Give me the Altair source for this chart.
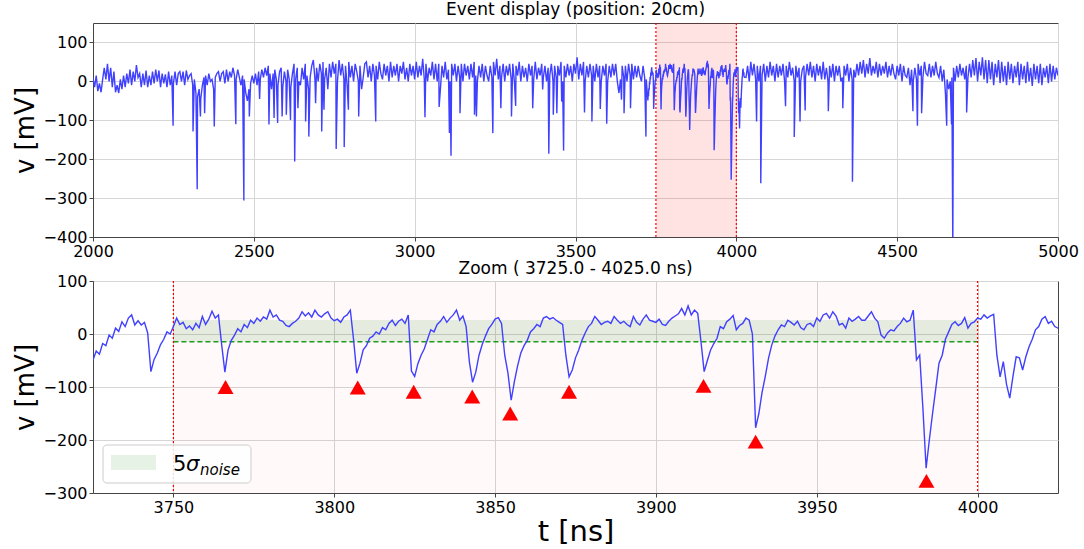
import altair as alt
import pandas as pd

# ---------------------------------------------------------------- data
# coarse record before the zoom window: one sample every 5 ns from 2000 ns
step_ns = 5
pre_start = 2000
pre_v = [
    8, -15, 15, -25, -5, -28, 5, 35, 5, 45,
    0, 35, -15, 25, -28, -10, -30, 5, -20, 15,
    -15, 20, -5, 30, -10, 25, 0, 42, 10, 20,
    -15, 20, -10, 28, -15, 15, -10, 25, -5, 30,
    0, 28, -15, 20, -5, 18, -15, 25, -10, 15,
    -5, 25, -10, 20, 25, 0, 25, -10, 28, 5,
    15, 20, -10, 5, -30, -40, -20, -45, -10, 10,
    15, -10, 20, 0, 5, -20, 10, 20, 25, 0,
    20, 25, -5, 30, 0, 25, 10, 35, 15, 5,
    30, 10, -10, 15, 5, -30, -50, -20, -5, 15,
    -5, 20, -10, 25, 5, 30, 10, 35, 15, 40,
    20, -20, 20, 30, 5, -10, 25, 35, -15, 25,
    0, 30, 5, -15, 20, 45, 5, 35, 0, -10,
    35, 5, 45, 15, -20, 10, 40, 55, 5, 35,
    0, 45, 20, 50, 5, 35, -20, 45, 10, 50,
    20, 45, 0, 55, 15, 45, 5, 40, -10, 50,
    10, 40, 0, 45, 25, 0, 40, -20, 10, 45,
    50, 10, 40, 0, 45, 15, 40, 5, 50, 20,
    5, 45, 15, 40, 0, 50, 10, 40, 15, 45,
    0, 40, 20, 50, 5, 35, 0, 45, 15, 40,
    5, 50, 10, 40, 15, 58, 5, 45, 0, 35,
    15, 50, 5, 45, 0, 45, -20, 40, 10, 50,
    5, 30, 0, 45, 15, 45, 0, 40, 10, 45,
    0, 45, 15, 40, 5, 45, 10, 50, 15, 0,
    40, 10, 45, 0, 40, 15, 0, 40, 10, 50,
    15, 58, 5, 40, 10, 45, 0, 40, 15, 45,
    5, 45, 0, 40, 15, 50, 0, 40, 10, 35,
    0, 45, 15, 40, 5, 50, 5, 35, 15, 45,
    10, 40, 0, 35, 15, 45, 0, 40, 10, 40,
    15, 50, 0, 40, 10, 45, 15, 40, 0, 45,
    20, 62, 5, 45, 15, 50, 0, 40, 10, 45,
    15, 40, 0, 45, 10, 40, 0, 40, 15, 45,
    0, 40, 10, 45, 15, 45, 0, -30, 5, 40,
    10, 40, 0, 45, 15, 45, 5, 40, 10, 40,
    15, 0, 40, 10, 5,
]

# coarse record after the zoom window, 5 ns samples from 4030 ns
post_start = 4030
post_v = [
    10, 40, 0, 50, 15, 45, 5, 40, 0, 40,
    15, 45, 0, 40, 10, 50, 15, 40, 0, 45,
    10, 40, 15, 45, 0, 40, 10, 50, 15, 35,
    0, 40, 10, 35, 0, 30, 40, 10, 45, 15,
    50, 10, 40, 0, 45, 15, 40, 5, 50, 5,
    35, 0, 40, 10, 45, 0, 40, 15, 40, 0,
    10, 40, 15, 45, 0, 35, 5, 30, 10, 45,
    15, 50, 20, 55, 10, 45, 20, 60, 15, 40,
    20, 50, 10, 45, 15, 40, 20, 50, 10, 40,
    15, 45, 20, 5, 40, 15, 45, 0, 40, 15,
    10, 35, -10, 30, 0, 35, 5, 45, 15, 40,
    10, 50, 20, 15, 45, 10, 40, 15, 50, 20,
    10, 40, 0, 30, -30, 5, -20, 0, 10, 35,
    0, 40, 10, 45, 15, 35, 5, 40, 10, 45,
    10, 55, 15, 60, 0, 50, 15, 62, 5, 55,
    -5, 55, 5, 50, -10, 45, 10, 55, -5, 50,
    0, 40, -10, 50, 5, 45, -5, 40, 10, 50,
    -10, 45, 5, 40, -5, 50, 0, 35, -12, 45,
    5, 40, -5, 45, -10, 35, 10, 40, -5, 45,
    0, 40, 5, 35, 15,
]

# narrow pulse minima in the coarse record (ns, mV)
pulse_t = [2249, 2311, 2324, 2334, 2347, 2377, 2444, 2469, 2486, 2518,
           2547, 2563, 2574, 2588, 2601, 2614, 2627, 2637, 2661, 2671,
           2692, 2711, 2718, 2756, 2781, 2794, 2826, 2879, 3032, 3076,
           3108, 3113, 3141, 3186, 3192, 3243, 3268, 3301, 3314, 3367,
           3398, 3417, 3431, 3442, 3457, 3463, 3528, 3551, 3577, 3597,
           3643, 3651, 3671, 3719,
           4063, 4076, 4153, 4180, 4198, 4214, 4286, 4331, 4361, 4549,
           4563, 4576, 4654, 4669, 4673, 4716]
pulse_v = [-114, -129, -277, -90, -82, -116, -110, -306, -90, -45,
           -111, -94, -107, -90, -86, -99, -206, -69, -103, -142,
           -56, -129, -73, -174, -169, -73, -90, -103, -92, -66,
           -133, -191, -82, -86, -90, -133, -69, -90, -63, -69,
           -21, -186, -86, -82, -52, -178, -80, -103, -71, -109,
           -47, -82, -69, -142,
           -103, -262, -64, -143, -103, -75, -77, -69, -258, -77,
           -114, -82, -114, -111, -430, -80]

# zoom window, one sample per ns from 3725 ns to 4025 ns
zoom_start = 3725
zoom_v = [
    -49, -32, -38, -18, -22, -2, -8, 11, 5, 23,
    14, 30, 36, 17, 25, 17, 22, 2, -71, -48,
    -36, -20, -10, 4, 0, 14, 30, 18, 22, 10,
    15, 8, 20, 12, 33, 18, 28, 43, 30, 36,
    -20, -72, -30, -12, -2, 10, 4, 18, 12, 26,
    20, 30, 24, 32, 28, 45, 32, 36, 26, 24,
    16, 14, 20, 24, 30, 42, 34, 40, 32, 45,
    36, 32, 38, 42, 30, 25, 28, 22, 32, 36,
    45, -10, -74, -55, -30, -22, -8, -4, 4, 0,
    12, 8, 20, 26, 16, 24, 28, 20, 36, -70,
    -80, -56, -40, -28, -10, 8, 4, 18, 24, 33,
    22, 30, 36, 45, 26, 34, 14, -52, -91, -72,
    -40, -20, -4, 10, 18, 28, 31, 20, -40, -74,
    -125, -90, -60, -36, -22, -12, 4, 10, 18, 14,
    30, 33, 28, 31, 26, 22, 18, -40, -81, -68,
    -45, -30, -12, 2, 14, 20, 33, 26, 18, 22,
    24, 20, 33, 26, 20, 24, 18, 14, 33, 22,
    17, 28, 36, 26, 24, 22, 28, 18, 16, 24,
    30, 34, 38, 48, 36, 53, 36, 45, 39, -14,
    -71, -50, -30, -18, -8, 14, 10, 23, 28, 35,
    8, 16, 20, 30, 26, 0, -177, -150, -110, -80,
    -46, -21, -4, 8, 17, 14, 26, 22, 17, 24,
    12, 8, 18, 20, 14, 30, 24, 36, 39, 30,
    42, 34, 17, 20, 11, 30, 24, 28, 33, 26,
    26, 34, 42, 30, 23, -2, -8, 2, 8, 6,
    14, 20, 30, 23, 26, 45, -49, -40, -140, -253,
    -200, -150, -103, -55, -40, -10, 4, 18, 23, 16,
    20, 31, 11, 20, 23, 30, 28, 36, 30, 34,
    37, -40, -81, -52, -95, -121, -80, -43, -45, -68,
    -43, -24, -10, 8, 14, 28, 33, 20, 24, 14,
    11,
]

# analysis window, noise band and threshold (mV)
window_ns = [3750, 4000]
noise_band = [-14.5, 26.4]
threshold = -14.5

# found peaks: time and marker level
peak_t = [3766.2, 3807.3, 3824.7, 3842.9, 3854.7, 3873.0, 3914.8, 3931.0, 3984.1]
peak_marker_v = [-100, -101, -109, -118, -150, -109, -98, -203, -277]

# ---------------------------------------------------------------- tables
rows = [(pre_start + step_ns * i, v) for i, v in enumerate(pre_v)]
rows += [(zoom_start + i, v) for i, v in enumerate(zoom_v)]
rows += [(post_start + step_ns * i, v) for i, v in enumerate(post_v)]
rows += list(zip(pulse_t, pulse_v))
wave = pd.DataFrame(rows, columns=["t", "v"]).sort_values("t", kind="stable")
wave["order"] = range(len(wave))
zoom = pd.DataFrame({"t": [zoom_start + i for i in range(len(zoom_v))], "v": zoom_v})

win = pd.DataFrame({"a": [window_ns[0]], "b": [window_ns[1]],
                    "lo": [noise_band[0]], "hi": [noise_band[1]], "thr": [threshold]})
win_lines = pd.DataFrame({"t": window_ns})
peaks = pd.DataFrame({"t": peak_t, "v": peak_marker_v})
one = pd.DataFrame({"k": [0]})

FONT = "DejaVu Sans"
LINE = "#4040ff"
W = 965
H_TOP, H_BOT = 214, 212

# ---------------------------------------------------------------- top panel
xt = alt.Scale(domain=[2000, 5000], nice=False, zero=False)
yt = alt.Scale(domain=[-400, 150], nice=False, zero=False)
x_top = alt.X("t:Q", scale=xt, axis=alt.Axis(values=[2000, 2500, 3000, 3500, 4000, 4500, 5000],
                                             format="d", title=None, labelFlush=False))
y_top = alt.Y("v:Q", scale=yt, axis=alt.Axis(values=[-400, -300, -200, -100, 0, 100],
                                             title="v [mV]"))

top_band = alt.Chart(win).mark_rect(color="red", opacity=0.11).encode(
    x=alt.X("a:Q", scale=xt), x2="b:Q", y=alt.value(0), y2=alt.value(H_TOP))
top_rules = alt.Chart(win_lines).mark_rule(color="red", strokeDash=[2, 2],
                                           strokeWidth=1.2).encode(x=alt.X("t:Q", scale=xt))
top_line = alt.Chart(wave).mark_line(color=LINE, strokeWidth=1.4, clip=True).encode(
    x=x_top, y=y_top, order="order:Q")

top = alt.layer(top_band, top_rules, top_line).properties(
    width=W, height=H_TOP,
    title=alt.TitleParams("Event display (position: 20cm)", fontSize=17, offset=3))

# ---------------------------------------------------------------- zoom panel
xb = alt.Scale(domain=[3725, 4025], nice=False, zero=False)
yb = alt.Scale(domain=[-300, 100], nice=False, zero=False)
x_bot = alt.X("t:Q", scale=xb, axis=alt.Axis(values=[3750, 3800, 3850, 3900, 3950, 4000],
                                             format="d", title="t [ns]", labelFlush=False,
                                             titleFontSize=29, titlePadding=2))
y_bot = alt.Y("v:Q", scale=yb, axis=alt.Axis(values=[-300, -200, -100, 0, 100], title="v [mV]"))

bot_bg = alt.Chart(win).mark_rect(color="red", opacity=0.025).encode(
    x=alt.X("a:Q", scale=xb), x2="b:Q", y=alt.value(0), y2=alt.value(H_BOT))
bot_band = alt.Chart(win).mark_rect(color="green", opacity=0.1).encode(
    x=alt.X("a:Q", scale=xb), x2="b:Q", y=alt.Y("lo:Q", scale=yb), y2="hi:Q")
bot_thr = alt.Chart(win).mark_rule(color="#1f9a1f", strokeDash=[5, 3], strokeWidth=1.4).encode(
    x=alt.X("a:Q", scale=xb), x2="b:Q", y=alt.Y("thr:Q", scale=yb))
bot_rules = alt.Chart(win_lines).mark_rule(color="red", strokeDash=[2, 2],
                                           strokeWidth=1.2).encode(x=alt.X("t:Q", scale=xb))
bot_line = alt.Chart(zoom).mark_line(color=LINE, strokeWidth=1.4, clip=True).encode(
    x=x_bot, y=y_bot)
bot_peaks = alt.Chart(peaks).mark_point(shape="triangle-up", filled=True, color="red",
                                         opacity=1, size=256).encode(
    x=alt.X("t:Q", scale=xb), y=alt.Y("v:Q", scale=yb))

# legend box
leg_box = alt.Chart(one).mark_rect(fill="white", fillOpacity=0.85, stroke="#cccccc",
                                   strokeWidth=1, cornerRadius=4).encode(
    x=alt.value(10), x2=alt.value(158), y=alt.value(164), y2=alt.value(202))
leg_patch = alt.Chart(one).mark_rect(color="green", opacity=0.1).encode(
    x=alt.value(18), x2=alt.value(63), y=alt.value(174), y2=alt.value(189))
leg_5 = alt.Chart(one).mark_text(text="5", font=FONT, fontSize=21, align="left",
                                 baseline="alphabetic", color="black").encode(
    x=alt.value(80), y=alt.value(190))
leg_sigma = alt.Chart(one).mark_text(text="σ", font=FONT, fontSize=21, fontStyle="italic",
                                     align="left", baseline="alphabetic", color="black").encode(
    x=alt.value(93), y=alt.value(190))
leg_sub = alt.Chart(one).mark_text(text="noise", font=FONT, fontSize=15, fontStyle="italic",
                                   align="left", baseline="alphabetic", color="black").encode(
    x=alt.value(107), y=alt.value(194))

bottom = alt.layer(bot_bg, bot_band, bot_thr, bot_rules, bot_line, bot_peaks,
                   leg_box, leg_patch, leg_5, leg_sigma, leg_sub).properties(
    width=W, height=H_BOT,
    title=alt.TitleParams("Zoom ( 3725.0 - 4025.0 ns)", fontSize=17, offset=-5))

chart = alt.vconcat(top, bottom, spacing=-1).properties(
    padding={"left": 11, "top": 0, "right": 5, "bottom": 0}
).configure_axis(
    labelFont=FONT, titleFont=FONT, labelFontSize=16, titleFontSize=26,
    titleFontWeight="normal", labelColor="black", titleColor="black",
    gridColor="#d6d6d6", gridWidth=1, domainColor="#444444", tickColor="#444444",
    tickSize=4, labelPadding=2, titlePadding=5,
).configure_title(
    font=FONT, fontWeight="normal", color="black", anchor="middle"
).configure_view(
    stroke="#444444", strokeWidth=1
)

chart.save("out.html", embed_options={"renderer": "svg", "actions": False})
